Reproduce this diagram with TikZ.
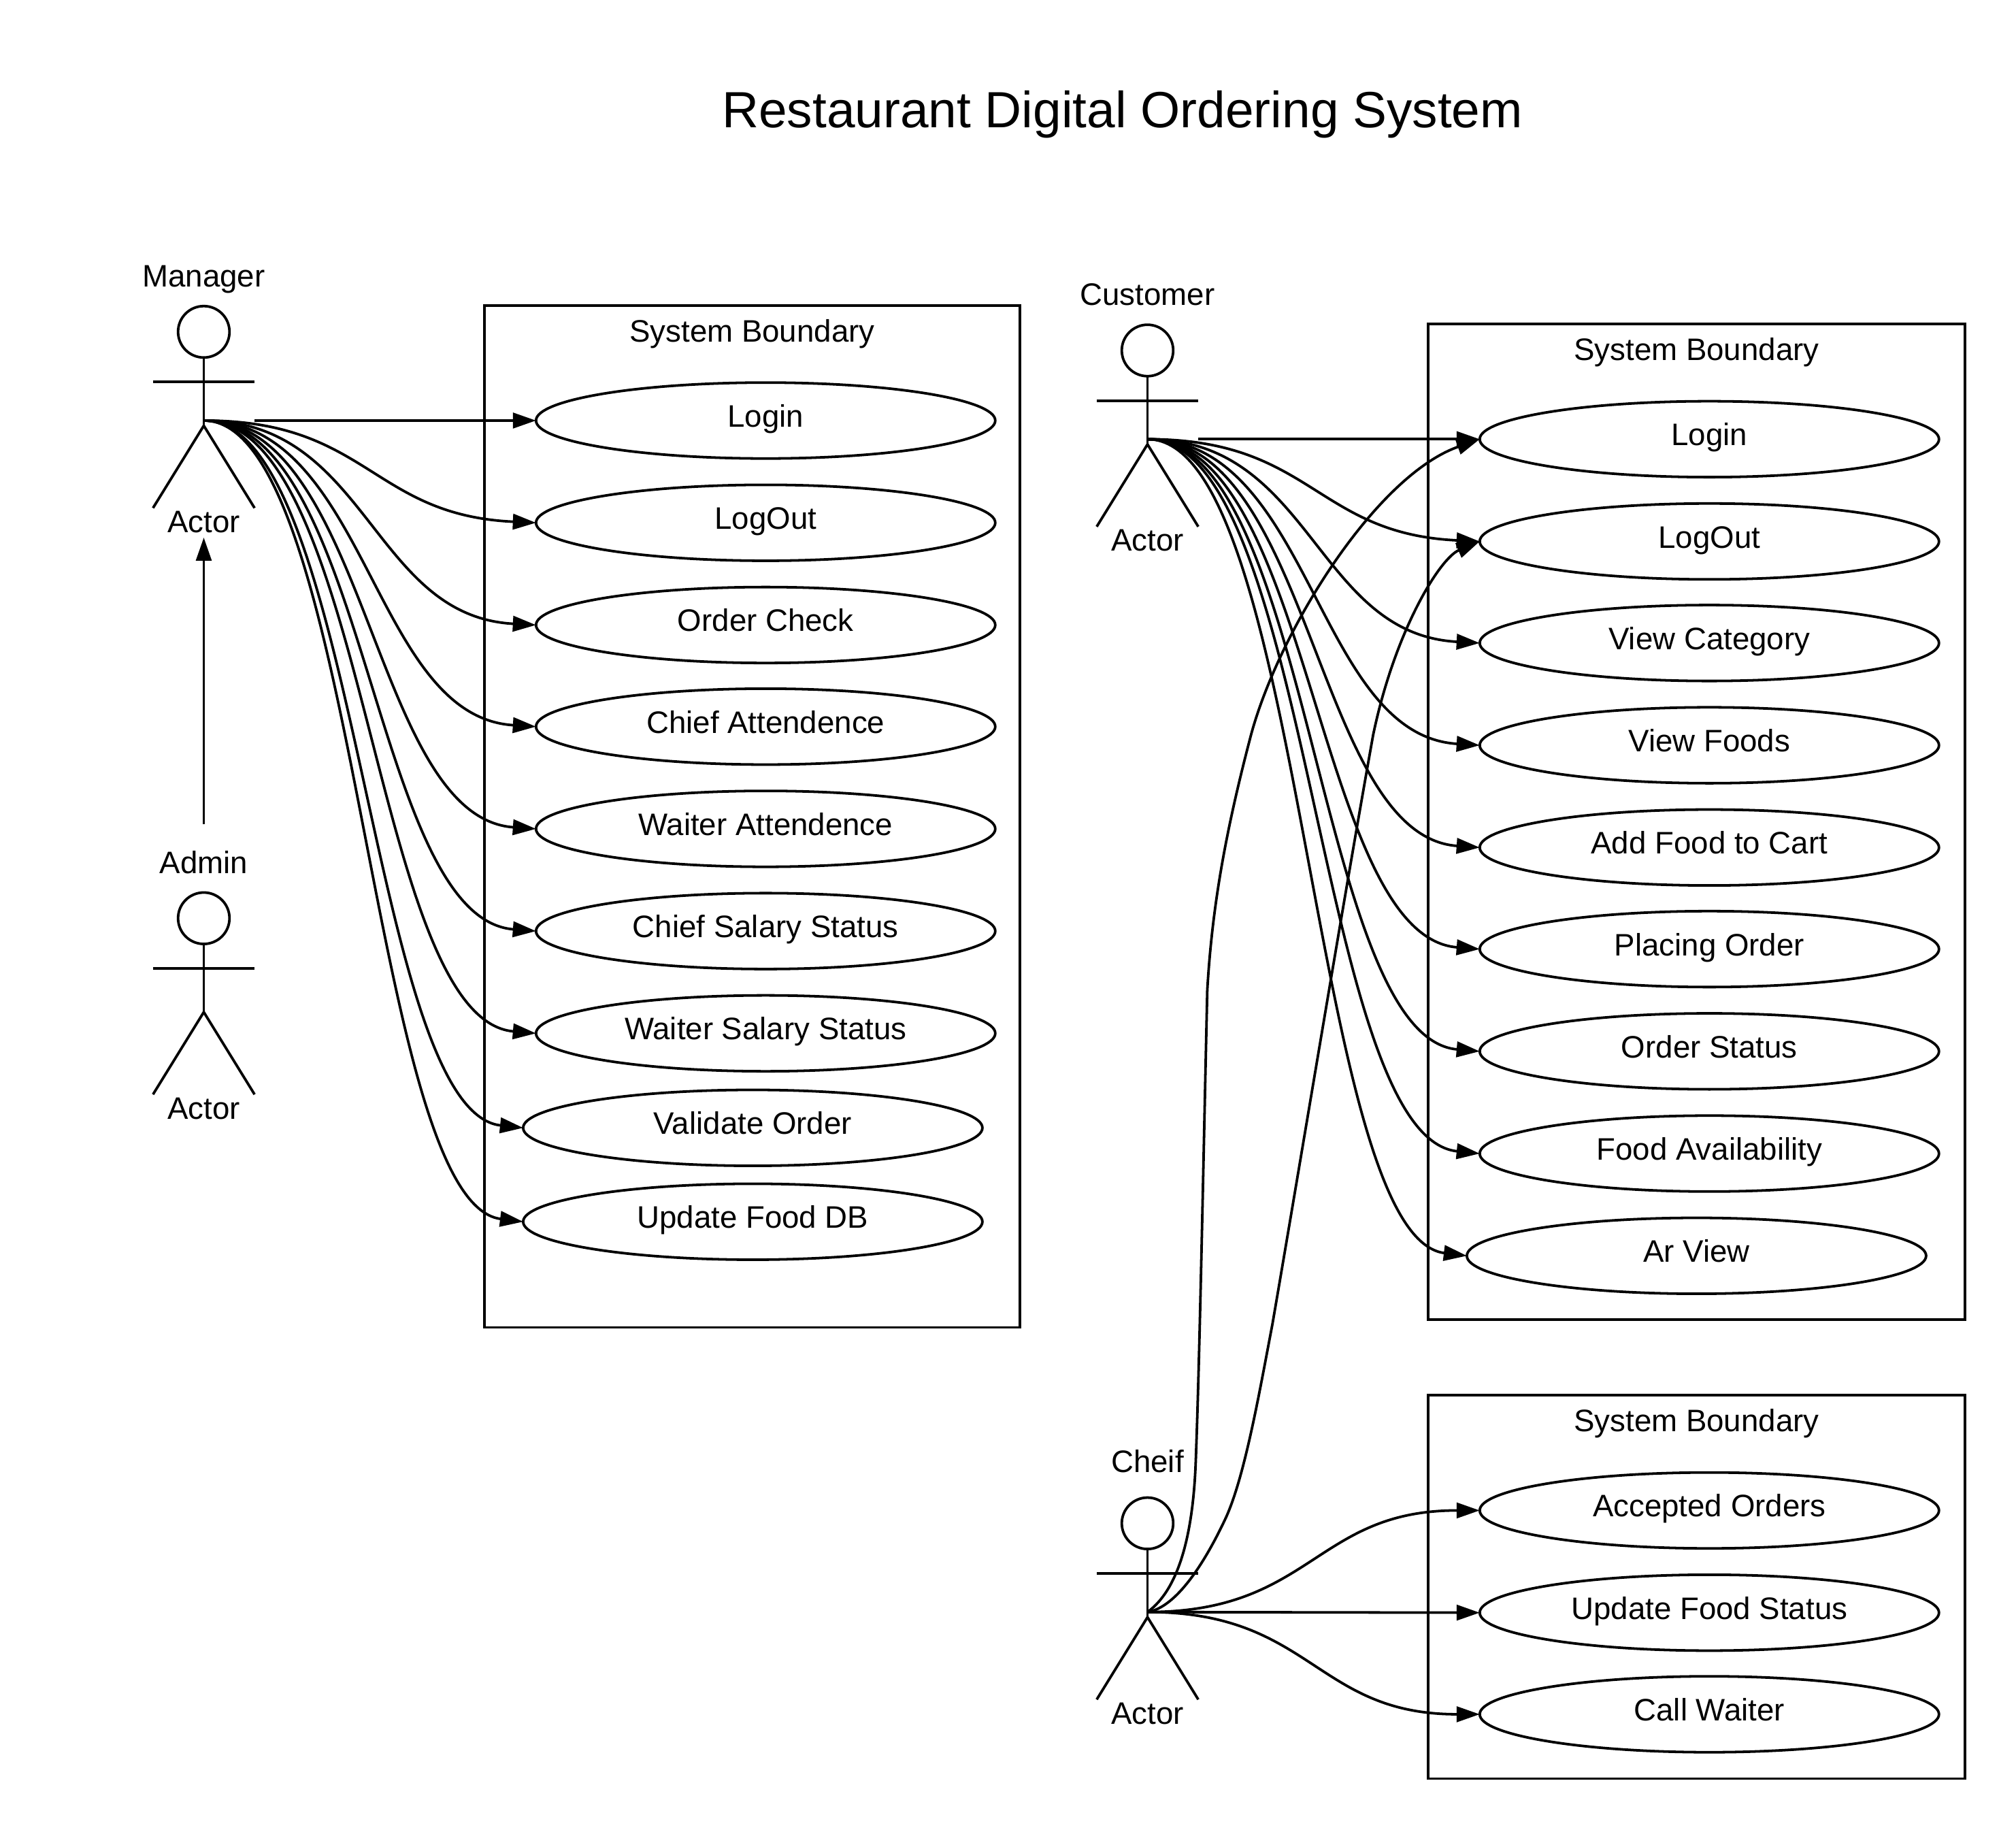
\documentclass[tikz,border=0pt]{standalone}
\usepackage{fontspec}
\setmainfont{Liberation Sans}
\usetikzlibrary{arrows.meta,shapes.geometric}
\tikzset{
  lbl/.style={anchor=base,inner sep=0pt,font=\fontsize{6.87}{8}\selectfont},
  usecase/.style={ellipse,draw,fill=white,minimum width=3.57cm,minimum height=.59cm,inner sep=0pt,outer sep=0pt,
    text height=.16cm,text depth=.06cm,font=\fontsize{6.87}{8}\selectfont},
  boundary/.style={draw,inner sep=0pt,outer sep=0pt},
  link/.style={->},
  stickfig/.pic={
    \draw (0,-69) circle (20);
    \draw (0,-49) -- (0,4);
    \draw (-39.5,-30) -- (39.5,-30);
    \draw (-39.5,68) -- (0,4) -- (39.5,68);
  }
}
\begin{document}
\begin{tikzpicture}[x=.01cm,y=-.01cm,line width=.02cm,>={Triangle[length=.18cm,width=.12cm]}]
  \useasboundingbox (0,0) rectangle (1568,1423);
  \node[anchor=base,inner sep=0pt,font=\fontsize{11.26}{13}\selectfont] (title) at (873,99) {Restaurant Digital Ordering System};

  % boundaries
  \node[boundary,minimum width=4.16cm,minimum height=7.94cm] (bndManager) at (585,635) {};
  \node[boundary,minimum width=4.17cm,minimum height=7.74cm] (bndCustomer) at (1319.5,639) {};
  \node[boundary,minimum width=4.17cm,minimum height=2.98cm] (bndCheif) at (1319.5,1234) {};
  \node[lbl] (bndManagerT) at (585,266) {System Boundary};
  \node[lbl] (bndCustomerT) at (1319.5,280) {System Boundary};
  \node[lbl] (bndCheifT) at (1319.5,1113) {System Boundary};

  % actors
  \pic at (158.5,327) {stickfig};
  \pic at (158.5,783) {stickfig};
  \pic at (892.5,341.5) {stickfig};
  \pic at (892.5,1253.5) {stickfig};
  \coordinate (manager) at (158.5,327);
  \coordinate (managerR) at (198,327);
  \coordinate (managerB) at (158.5,418);
  \coordinate (adminT) at (158.5,641);
  \coordinate (customer) at (892.5,341.5);
  \coordinate (customerR) at (932,341.5);
  \coordinate (cheif) at (892.5,1253.5);
  \node[lbl] (managerT) at (158.5,223) {Manager};
  \node[lbl] (managerA) at (158.5,414) {Actor};
  \node[lbl] (adminN) at (158.5,679) {Admin};
  \node[lbl] (adminA) at (158.5,870.5) {Actor};
  \node[lbl] (customerT) at (892.5,237.5) {Customer};
  \node[lbl] (customerA) at (892.5,428.5) {Actor};
  \node[lbl] (cheifT) at (892.5,1145) {Cheif};
  \node[lbl] (cheifA) at (892.5,1340.5) {Actor};

  % manager use cases
  \node[usecase] (mLogin) at (595.5,327) {Login};
  \node[usecase] (mLogout) at (595.5,406.5) {LogOut};
  \node[usecase] (mCheck) at (595.5,486) {Order Check};
  \node[usecase] (mChief) at (595.5,565) {Chief Attendence};
  \node[usecase] (mWaiter) at (595.5,644.5) {Waiter Attendence};
  \node[usecase] (mChiefPay) at (595.5,724) {Chief Salary Status};
  \node[usecase] (mWaiterPay) at (595.5,803.5) {Waiter Salary Status};
  \node[usecase] (mValidate) at (585.5,877) {Validate Order};
  \node[usecase] (mFoodDb) at (585.5,950) {Update Food DB};

  % customer use cases
  \node[usecase] (cLogin) at (1329.5,341.5) {Login};
  \node[usecase] (cLogout) at (1329.5,421) {LogOut};
  \node[usecase] (cCategory) at (1329.5,500) {View Category};
  \node[usecase] (cFoods) at (1329.5,579.5) {View Foods};
  \node[usecase] (cCart) at (1329.5,659) {Add Food to Cart};
  \node[usecase] (cPlace) at (1329.5,738) {Placing Order};
  \node[usecase] (cStatus) at (1329.5,817.5) {Order Status};
  \node[usecase] (cAvail) at (1329.5,897) {Food Availability};
  \node[usecase] (cAr) at (1319.5,976.5) {Ar View};

  % cheif use cases
  \node[usecase] (kAccepted) at (1329.5,1174.5) {Accepted Orders};
  \node[usecase] (kUpdate) at (1329.5,1254) {Update Food Status};
  \node[usecase] (kCall) at (1329.5,1333) {Call Waiter};

  \draw[link] (adminT) -- (managerB);

  \draw[link] (managerR) -- (mLogin.west);
  \draw[link] (manager) .. controls +(128,0) and +(-128,-6) .. (mLogout.west);
  \draw[link] (manager) .. controls +(128,0) and +(-128,-7) .. (mCheck.west);
  \draw[link] (manager) .. controls +(128,0) and +(-128,-8) .. (mChief.west);
  \draw[link] (manager) .. controls +(128,0) and +(-128,-9) .. (mWaiter.west);
  \draw[link] (manager) .. controls +(128,0) and +(-128,-10) .. (mChiefPay.west);
  \draw[link] (manager) .. controls +(128,0) and +(-128,-11) .. (mWaiterPay.west);
  \draw[link] (manager) .. controls +(120,0) and +(-120,-13) .. (mValidate.west);
  \draw[link] (manager) .. controls +(120,0) and +(-120,-15) .. (mFoodDb.west);

  \draw[link] (customerR) -- (cLogin.west);
  \draw[link] (customer) .. controls +(128,0) and +(-128,-6) .. (cLogout.west);
  \draw[link] (customer) .. controls +(128,0) and +(-128,-7) .. (cCategory.west);
  \draw[link] (customer) .. controls +(128,0) and +(-128,-8) .. (cFoods.west);
  \draw[link] (customer) .. controls +(128,0) and +(-128,-9) .. (cCart.west);
  \draw[link] (customer) .. controls +(128,0) and +(-128,-10) .. (cPlace.west);
  \draw[link] (customer) .. controls +(128,0) and +(-128,-11) .. (cStatus.west);
  \draw[link] (customer) .. controls +(128,0) and +(-128,-13) .. (cAvail.west);
  \draw[link] (customer) .. controls +(122,0) and +(-122,-15) .. (cAr.west);

  \draw[link] (cheif) .. controls +(128,0) and +(-128,0) .. (kAccepted.west);
  \draw[link] (cheif) -- (kUpdate.west);
  \draw[link] (cheif) .. controls +(128,0) and +(-128,0) .. (kCall.west);

  \draw[link] (cheif) .. controls (918,1235) and (928,1190) .. (930,1137)
    .. controls (933,1060) and (936,900) .. (939,770)
    .. controls (943,700) and (955,640) .. (973,571.5)
    .. controls (995,490) and (1070,370) .. (cLogin.west);
  \draw[link] (cheif) .. controls (915,1250) and (937,1215) .. (952.6,1182)
    .. controls (968,1150) and (980,1080) .. (989.6,1030)
    .. controls (1012,900) and (1045,700) .. (1068,571.5)
    .. controls (1085,490) and (1120,434) .. (cLogout.west);
\end{tikzpicture}
\end{document}
